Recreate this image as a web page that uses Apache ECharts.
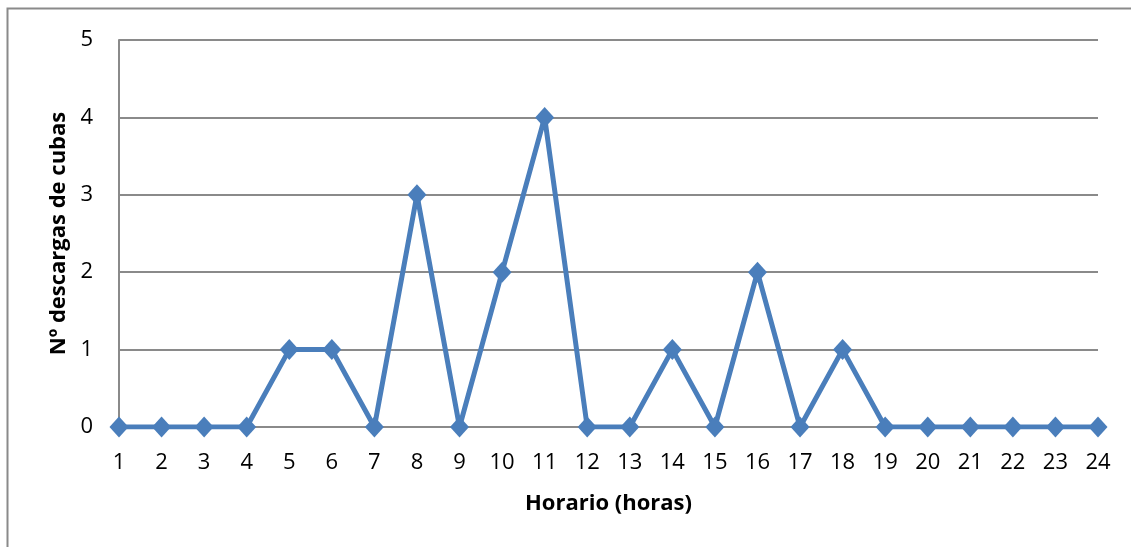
<!DOCTYPE html>
<html><head><meta charset="utf-8">
<script src="https://cdn.jsdelivr.net/npm/echarts@6/dist/echarts.min.js"></script>
<style>html,body{margin:0;padding:0;background:#fff}#c{width:1131px;height:547px}</style>
</head><body><div id="c"></div>
<script>
const categories = ['1','2','3','4','5','6','7','8','9','10','11','12','13','14','15','16','17','18','19','20','21','22','23','24'];
const values = [0,0,0,0,1,1,0,3,0,2,4,0,0,1,0,2,0,1,0,0,0,0,0,0];
const xTitle = 'Horario (horas)';
const yTitle = 'Nº descargas de cubas';
const font = '"Open Sans", "Liberation Sans", sans-serif';
const chart = echarts.init(document.getElementById('c'), null, {renderer: 'canvas'});
chart.setOption({
  animation: false,
  backgroundColor: '#fff',
  graphic: [{type: 'rect', shape: {x: 7.5, y: 8.5, width: 1200, height: 600}, style: {fill: 'none', stroke: '#8a8a8a', lineWidth: 2}}],
  grid: {left: 119, right: 33, top: 40, bottom: 120, containLabel: false},
  xAxis: {
    type: 'category', data: categories, boundaryGap: false,
    axisLine: {show: false}, axisTick: {show: false},
    axisLabel: {color: '#000', fontSize: 22, fontFamily: font, margin: 25},
    name: xTitle, nameLocation: 'middle', nameGap: 66,
    nameTextStyle: {color: '#000', fontSize: 22, fontWeight: 'bold', fontFamily: font}
  },
  yAxis: {
    type: 'value', min: 0, max: 5, interval: 1,
    axisLine: {show: true, lineStyle: {color: '#8a8a8a', width: 2}}, axisTick: {show: false},
    axisLabel: {color: '#000', fontSize: 22, fontFamily: font, margin: 26},
    splitLine: {lineStyle: {color: '#8a8a8a', width: 2}},
    name: yTitle, nameLocation: 'middle', nameGap: 48, nameRotate: 90,
    nameTextStyle: {color: '#000', fontSize: 22, fontWeight: 'bold', fontFamily: font}
  },
  series: [{
    type: 'line', data: values,
    lineStyle: {color: '#4a7ebb', width: 5},
    itemStyle: {color: '#4a7ebb'},
    symbol: 'diamond', symbolSize: [19, 21], showAllSymbol: true
  }]
});
</script></body></html>
